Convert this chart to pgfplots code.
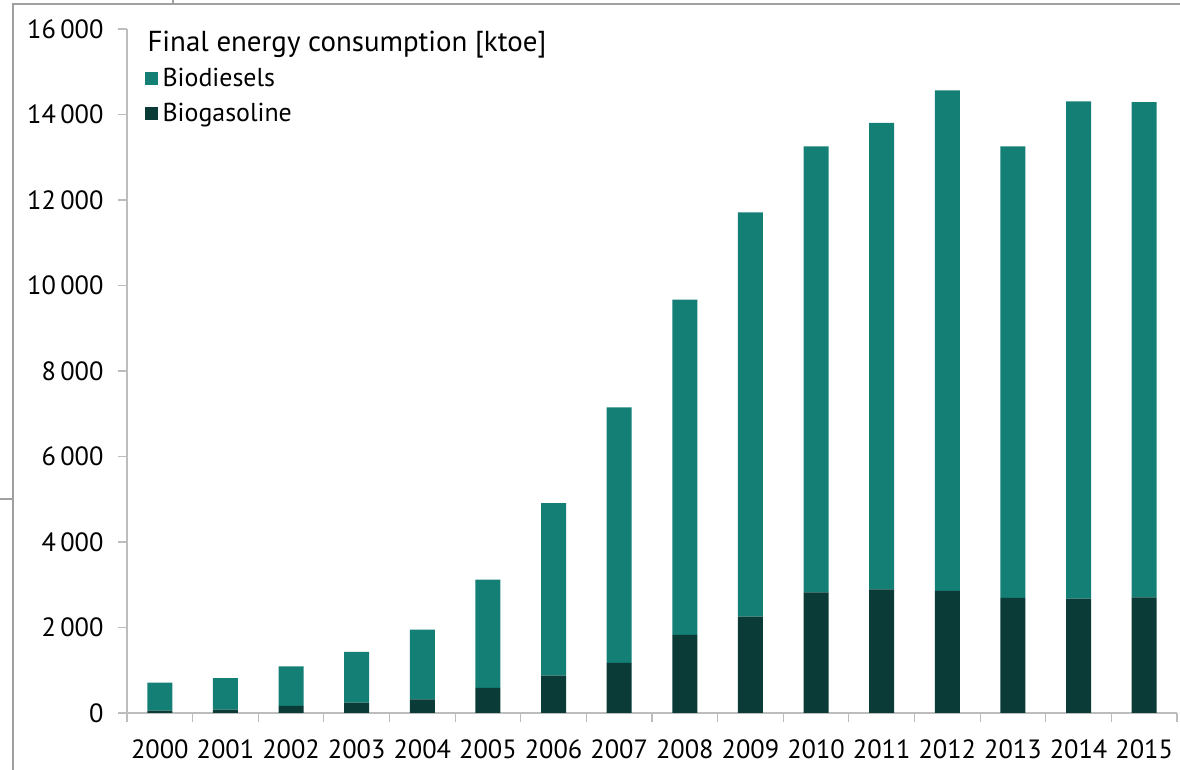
\documentclass[border=0pt]{standalone}
\usepackage{pgfplots}
\pgfplotsset{compat=1.18}
\usepackage{fontspec}
\setmainfont{PT Sans}
\definecolor{bdiesel}{HTML}{147F75}
\definecolor{bgas}{HTML}{0A3B37}
\definecolor{axgray}{HTML}{BDBDBD}
\definecolor{framegray}{HTML}{A0A0A0}
\begin{document}
\begin{tikzpicture}[x=1bp,y=1bp]
\useasboundingbox (0,0) rectangle (1180,770);
\fill[white] (0,0) rectangle (1180,770);
\draw[framegray, line width=1.5bp] (13,0) -- (13,766) -- (1180,766);
\draw[framegray, line width=1.5bp] (0,271) -- (13,271);
\draw[framegray, line width=1.5bp] (173,766) -- (173,770);
\begin{axis}[
  at={(127bp,57bp)}, anchor=south west,
  scale only axis, width=1050bp, height=684bp,
  xmin=-0.5, xmax=15.5, ymin=0, ymax=16000,
  ybar stacked, bar width=25bp,
  axis x line*=bottom, axis y line*=left,
  axis line style={axgray, line width=1.2bp},
  xtick={0,...,15},
  xticklabels={2000,2001,2002,2003,2004,2005,2006,2007,2008,2009,2010,2011,2012,2013,2014,2015},
  major x tick style={draw=none},
  minor xtick={-0.5,0.5,...,15.5},
  minor tick length=9bp, major tick length=9bp,
  tick align=outside,
  ytick={0,2000,...,16000},
  tick style={axgray, line width=1.2bp},
  minor x tick style={axgray, line width=1.2bp},
  tick label style={font=\fontsize{26.5}{30}\selectfont, text=black},
  yticklabel style={xshift=-11bp},
  xticklabel style={yshift=-14bp},
  /pgf/number format/.cd, 1000 sep={\,}, assume math mode=true, /pgfplots/.cd,
  scaled y ticks=false,
  legend style={at={(0.0171,1.0000)}, anchor=north west, draw=none, fill=none,
    font=\fontsize{26}{30}\selectfont, row sep=11bp, inner sep=0pt},
  legend cell align=left,
]
\addplot[fill=bgas, draw=none, forget plot] coordinates {
(0,54) (1,77) (2,164) (3,241) (4,319) (5,585) (6,873) (7,1170)
(8,1825) (9,2253) (10,2822) (11,2892) (12,2854) (13,2690) (14,2674) (15,2705)};
\addplot[fill=bdiesel, draw=none, forget plot] coordinates {
(0,655) (1,741) (2,926) (3,1186) (4,1630) (5,2533) (6,4039) (7,5979)
(8,7843) (9,9457) (10,10432) (11,10909) (12,11710) (13,10564) (14,11633) (15,11587)};
\addlegendimage{empty legend}
\addlegendentry{\hspace*{-12bp}\fontsize{29}{33}\selectfont Final energy consumption [ktoe]}
\addlegendimage{legend image code/.code={\fill[bdiesel] (0bp,-6bp) rectangle (12bp,6bp);}}
\addlegendentry{\hspace*{3bp}Biodiesels}
\addlegendimage{legend image code/.code={\fill[bgas] (0bp,-6bp) rectangle (12bp,6bp);}}
\addlegendentry{\hspace*{3bp}Biogasoline}
\end{axis}
\end{tikzpicture}
\end{document}
